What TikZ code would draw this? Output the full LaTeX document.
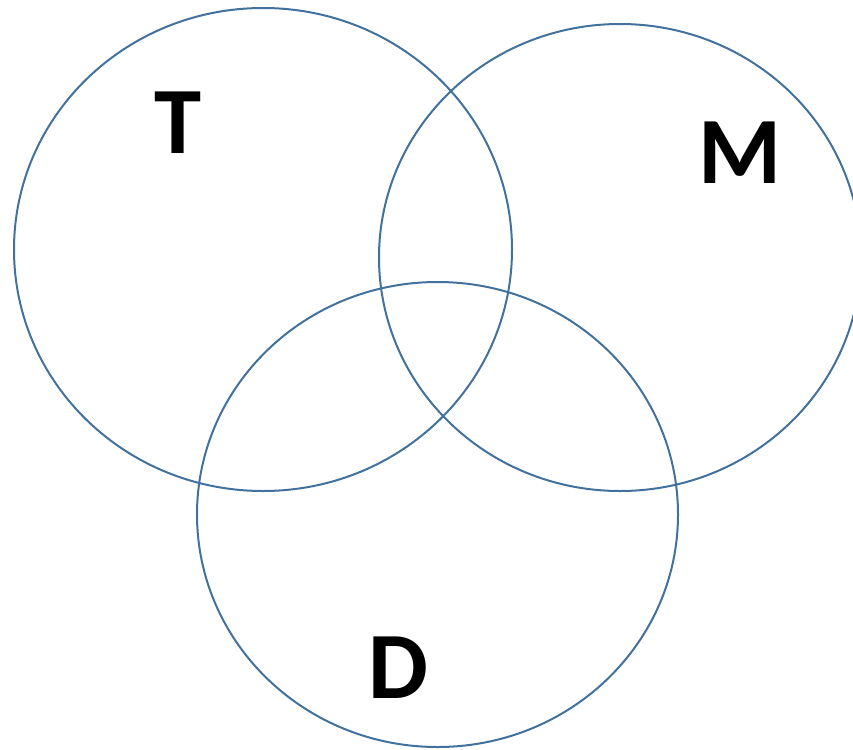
\documentclass[tikz,border=0pt]{standalone}
\usepackage{fontspec}
\setmainfont{Carlito}
\usepackage{xcolor}
\usepackage{tikz}
\definecolor{setblue}{RGB}{65,113,156}

\begin{document}
\begin{tikzpicture}[
  x=1pt, y=-1pt,
  setline/.style={draw=setblue, line width=2pt},
  setlab/.style={font=\fontsize{95}{95}\selectfont\bfseries, inner sep=0pt, anchor=center}
]
\clip (0,0) rectangle (853,749);
\useasboundingbox (0,0) rectangle (853,749);

% Sets.
\draw[setline] (263,249.5) ellipse [x radius=249pt, y radius=241.5pt];
\draw[setline] (620,257.5) ellipse [x radius=241pt, y radius=233.5pt];
\draw[setline] (437.5,514.5) ellipse [x radius=240.5pt, y radius=232.5pt];

% Labels.
\node[setlab] (labT) at (178,123) {T};
\node[setlab] (labM) at (740,153) {M};
\node[setlab] (labD) at (398,668) {D};
\end{tikzpicture}
\end{document}
